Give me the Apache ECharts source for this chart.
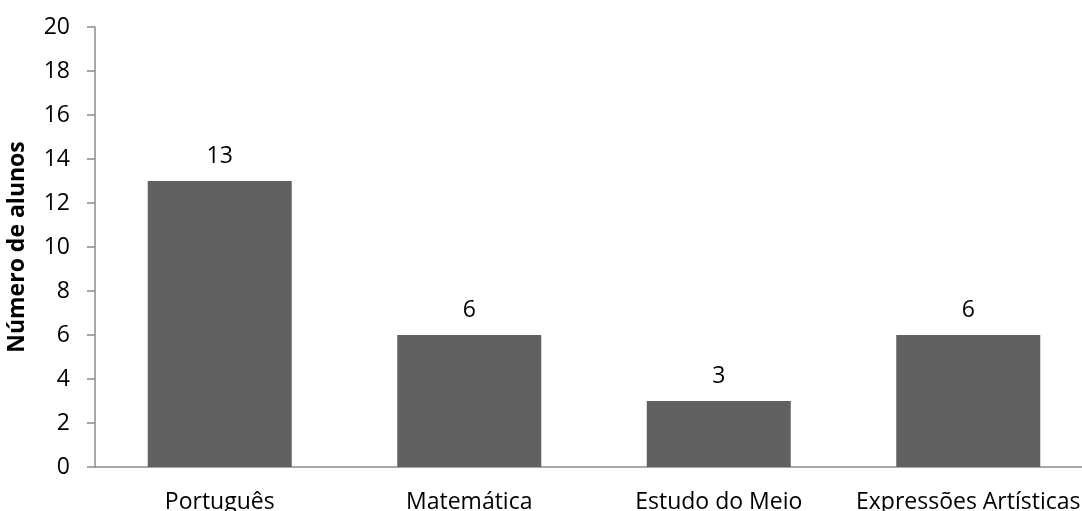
<!DOCTYPE html>
<html>
<head>
<meta charset="utf-8">
<script src="https://cdn.jsdelivr.net/npm/echarts@6/dist/echarts.min.js"></script>
<style>
  html, body { margin: 0; padding: 0; background: #fff; }
  #chart { width: 1082px; height: 511px; }
</style>
</head>
<body>
<div id="chart"></div>
<script>
// Students per subject
const subjects = ['Português', 'Matemática', 'Estudo do Meio', 'Expressões Artísticas'];
const studentCounts = [13, 6, 3, 6];
const yAxisTitle = 'Número de alunos';

const font = '"Open Sans", sans-serif';
const chart = echarts.init(document.getElementById('chart'));
chart.setOption({
  animation: false,
  backgroundColor: '#ffffff',
  grid: { left: 95, right: -11, top: 27, bottom: 44, containLabel: false, outerBoundsMode: 'none' },
  xAxis: {
    type: 'category',
    data: subjects,
    axisLine: { lineStyle: { color: '#8c8c8c', width: 1.5 } },
    axisTick: { show: false },
    axisLabel: { color: '#000', fontFamily: font, fontSize: 23, margin: 24, interval: 0, hideOverlap: false }
  },
  yAxis: {
    type: 'value',
    min: 0, max: 20, interval: 2,
    name: yAxisTitle,
    nameLocation: 'middle',
    nameGap: 66,
    nameTextStyle: { color: '#000', fontFamily: font, fontSize: 23, fontWeight: 'bold' },
    axisLine: { show: true, lineStyle: { color: '#8c8c8c', width: 1.5 } },
    axisTick: { show: true, length: 8, lineStyle: { color: '#8c8c8c', width: 1.5 } },
    axisLabel: { color: '#000', fontFamily: font, fontSize: 23, margin: 25 },
    splitLine: { show: false }
  },
  series: [{
    type: 'bar',
    data: studentCounts,
    barWidth: 144,
    itemStyle: { color: '#616161' },
    label: {
      show: true, position: 'top', distance: 13,
      color: '#000', fontFamily: font, fontSize: 23
    }
  }]
});
</script>
</body>
</html>
